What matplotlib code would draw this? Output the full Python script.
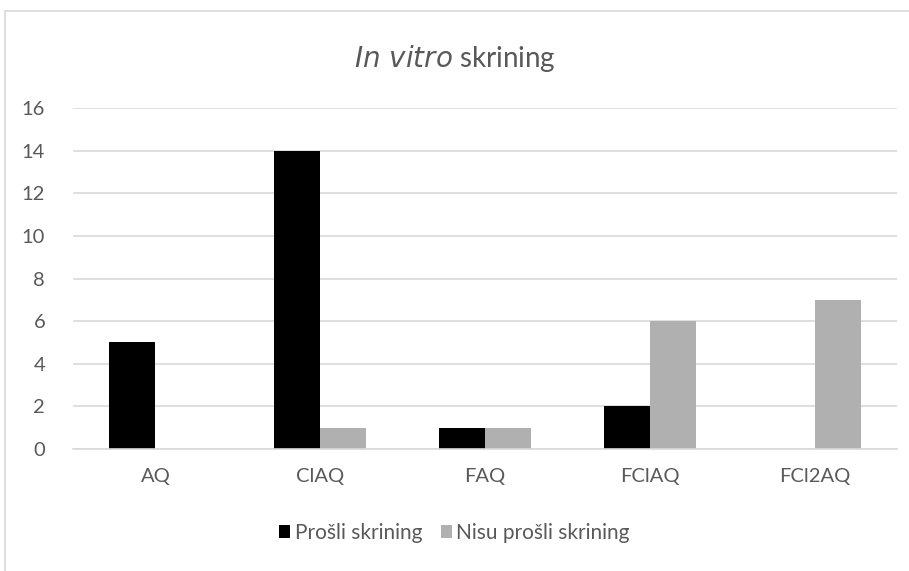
import matplotlib.pyplot as plt
import numpy as np
from matplotlib.patches import Rectangle

categories = ["AQ", "ClAQ", "FAQ", "FClAQ", "FCl2AQ"]
prosli = [5, 14, 1, 2, 0]
nisu_prosli = [0, 1, 1, 6, 7]
series_names = ["Prošli skrining", "Nisu prošli skrining"]

plt.rcParams['font.family'] = ['Lato', 'DejaVu Sans']

fig = plt.figure(figsize=(9.09, 5.71), dpi=100)
# chart border like the Excel chart area
fig.patches.append(Rectangle((5 / 909, -0.01), 1.0, 1 - 11 / 571 + 0.01,
                             transform=fig.transFigure, fill=False,
                             edgecolor="#d9d9d9", linewidth=1.2))

ax = fig.add_axes([73 / 909, 1 - 449 / 571, (897 - 73) / 909, (449 - 108) / 571])

x = np.arange(len(categories))
w = 0.28
ax.bar(x - w / 2, prosli, w, color="black", label=series_names[0])
ax.bar(x + w / 2, nisu_prosli, w, color="#b0b0b0", label=series_names[1])

ax.set_xlim(-0.5, len(categories) - 0.5)
ax.set_ylim(0, 16)
ax.set_yticks(range(0, 17, 2))
ax.set_xticks(x)
ax.set_xticklabels(categories)
ax.yaxis.grid(True, color="#d9d9d9", linewidth=1.2)
ax.set_axisbelow(True)
for s in ["top", "right", "left"]:
    ax.spines[s].set_visible(False)
ax.spines["bottom"].set_color("#d9d9d9")
ax.spines["bottom"].set_linewidth(1.2)
ax.tick_params(length=0, labelsize=14.5, colors="#595959")
ax.tick_params(axis="x", pad=14)
ax.tick_params(axis="y", pad=20)

fig.text(0.5, 1 - 58 / 571, r"$\it{In\ vitro}$ skrining", ha="center", va="center",
         fontsize=20, color="#595959")

fig.legend(loc="center", bbox_to_anchor=(0.5, 1 - 533 / 571), ncol=2, frameon=False,
           fontsize=15, labelcolor="#595959", handlelength=0.55, handleheight=0.55,
           handletextpad=0.2, columnspacing=0.9)

fig.savefig("out.png", dpi=100)
